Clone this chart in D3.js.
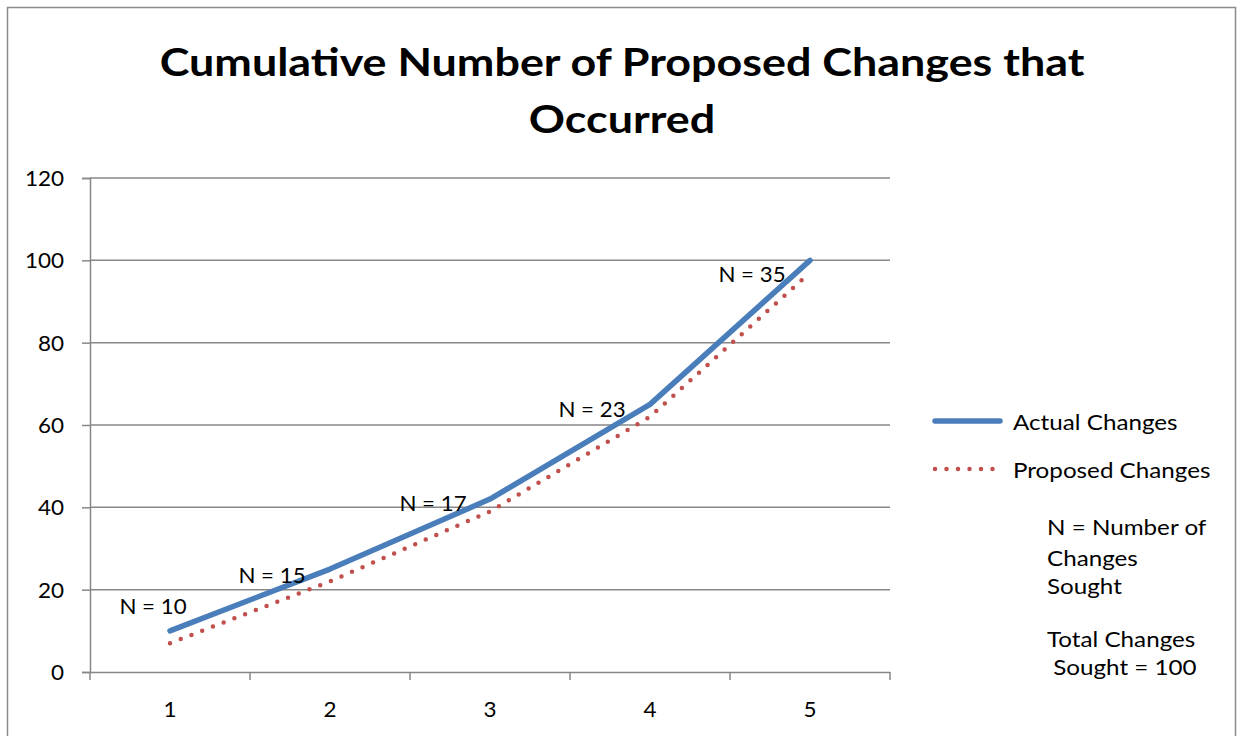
<!DOCTYPE html>
<html><head><meta charset="utf-8">
<script src="https://cdn.jsdelivr.net/npm/d3@7"></script>
<style>
body{margin:0;background:#fff;}
svg text{font-family:Lato,"Open Sans",sans-serif;fill:#000;}
</style></head>
<body>
<svg id="chart" width="1238" height="736"></svg>
<script>
const categories = ["1","2","3","4","5"];
const actualChanges = [10, 25, 42, 65, 100];
const proposedChanges = [7, 22, 39, 62, 97];
const nLabels = ["N = 10","N = 15","N = 17","N = 23","N = 35"];
const yTicks = [0,20,40,60,80,100,120];
const titleLines = ["Cumulative Number of Proposed Changes that","Occurred"];
const seriesNames = ["Actual Changes","Proposed Changes"];
const noteLines = ["N = Number of","Changes","Sought","","Total Changes"," Sought = 100"];

// layout (styling, not data)
const labelOffsets = [[-17,-25],[-58,5],[-57,3],[-58,4],[-58,13]];

// widen text horizontally to mimic the reference's wider face
function stretch(sel, f){
  sel.each(function(){
    const w = this.getComputedTextLength();
    if (w>0) d3.select(this).attr("textLength", w*f).attr("lengthAdjust","spacingAndGlyphs");
  });
}

const svg = d3.select("#chart");
svg.append("rect").attr("x",7.5).attr("y",7.5).attr("width",1228).attr("height",740)
  .attr("fill","#fff").attr("stroke","#8c8c8c").attr("stroke-width",1.5);

const pL=90,pR=890,pT=178,pB=672;
const x = d3.scaleBand().domain(categories).range([pL,pR]);
const xc = d => x(d)+x.bandwidth()/2;
const y = d3.scaleLinear().domain([0,120]).range([pB,pT]);

// gridlines
svg.append("g").selectAll("line").data(yTicks.filter(d=>d>0)).join("line")
  .attr("x1",pL).attr("x2",pR).attr("y1",d=>y(d)).attr("y2",d=>y(d))
  .attr("stroke","#878787").attr("stroke-width",1.5);

const yAxis = svg.append("g").attr("transform",`translate(${pL},0)`)
  .call(d3.axisLeft(y).tickValues(yTicks).tickSize(8).tickPadding(18));
yAxis.select(".domain").attr("stroke","#878787").attr("stroke-width",1.5);
yAxis.selectAll(".tick line").attr("stroke","#878787").attr("stroke-width",1.5);
yAxis.selectAll("text").style("font-size","21px").attr("fill","#000").attr("dy","0.36em");
stretch(yAxis.selectAll("text"),1.07);

const xAxis = svg.append("g").attr("transform",`translate(0,${pB})`)
  .call(d3.axisBottom(x).tickSize(0).tickPadding(30));
xAxis.select(".domain").attr("stroke","#878787").attr("stroke-width",1.5);
xAxis.selectAll("text").style("font-size","21px").attr("fill","#000");
stretch(xAxis.selectAll("text"),1.07);
// category boundary ticks
svg.append("g").selectAll("line").data(categories.concat(["end"])).join("line")
  .attr("x1",(d,i)=>i<categories.length?x(d):pR).attr("x2",(d,i)=>i<categories.length?x(d):pR)
  .attr("y1",pB).attr("y2",pB+8).attr("stroke","#878787").attr("stroke-width",1.5);

const line = d3.line().x((d,i)=>xc(categories[i])).y(d=>y(d));
svg.append("path").datum(actualChanges).attr("d",line).attr("fill","none")
  .attr("stroke","#4A7EBB").attr("stroke-width",5.5).attr("stroke-linejoin","round").attr("stroke-linecap","round");
svg.append("path").datum(proposedChanges).attr("d",line).attr("fill","none")
  .attr("stroke","#C0504D").attr("stroke-width",4.5).attr("stroke-dasharray","0 11.5").attr("stroke-linecap","round");

// data labels
const dl = svg.append("g").selectAll("text").data(nLabels).join("text")
  .attr("x",(d,i)=>xc(categories[i])+labelOffsets[i][0])
  .attr("y",(d,i)=>y(actualChanges[i])+labelOffsets[i][1])
  .attr("text-anchor","middle").attr("dominant-baseline","central")
  .style("font-size","21px").text(d=>d);
stretch(dl,1.06);

// title
const tt = svg.append("g").selectAll("text").data(titleLines).join("text")
  .attr("x",622).attr("y",(d,i)=>76+i*57).attr("text-anchor","middle")
  .style("font-size","39px").style("font-weight","bold").text(d=>d);
stretch(tt,1.15);

// legend
const lg = svg.append("g");
lg.append("line").attr("x1",935).attr("x2",1000).attr("y1",421).attr("y2",421)
  .attr("stroke","#4A7EBB").attr("stroke-width",5.5).attr("stroke-linecap","round");
lg.append("line").attr("x1",935).attr("x2",998).attr("y1",469).attr("y2",469)
  .attr("stroke","#C0504D").attr("stroke-width",4.5).attr("stroke-dasharray","0 11.5").attr("stroke-linecap","round");
const st = lg.selectAll("text.s").data(seriesNames).join("text").attr("class","s")
  .attr("x",1013).attr("y",(d,i)=>421+i*48).attr("dominant-baseline","central")
  .style("font-size","22px").text(d=>d);
stretch(st,1.1);
const nt = lg.selectAll("text.n").data(noteLines).join("text").attr("class","n")
  .attr("x",1047).attr("y",(d,i)=>[526,557,585,0,638,666][i]).attr("dominant-baseline","central")
  .style("font-size","22px").attr("xml:space","preserve").style("white-space","pre").text(d=>d);
stretch(nt,1.1);
</script>
</body></html>
